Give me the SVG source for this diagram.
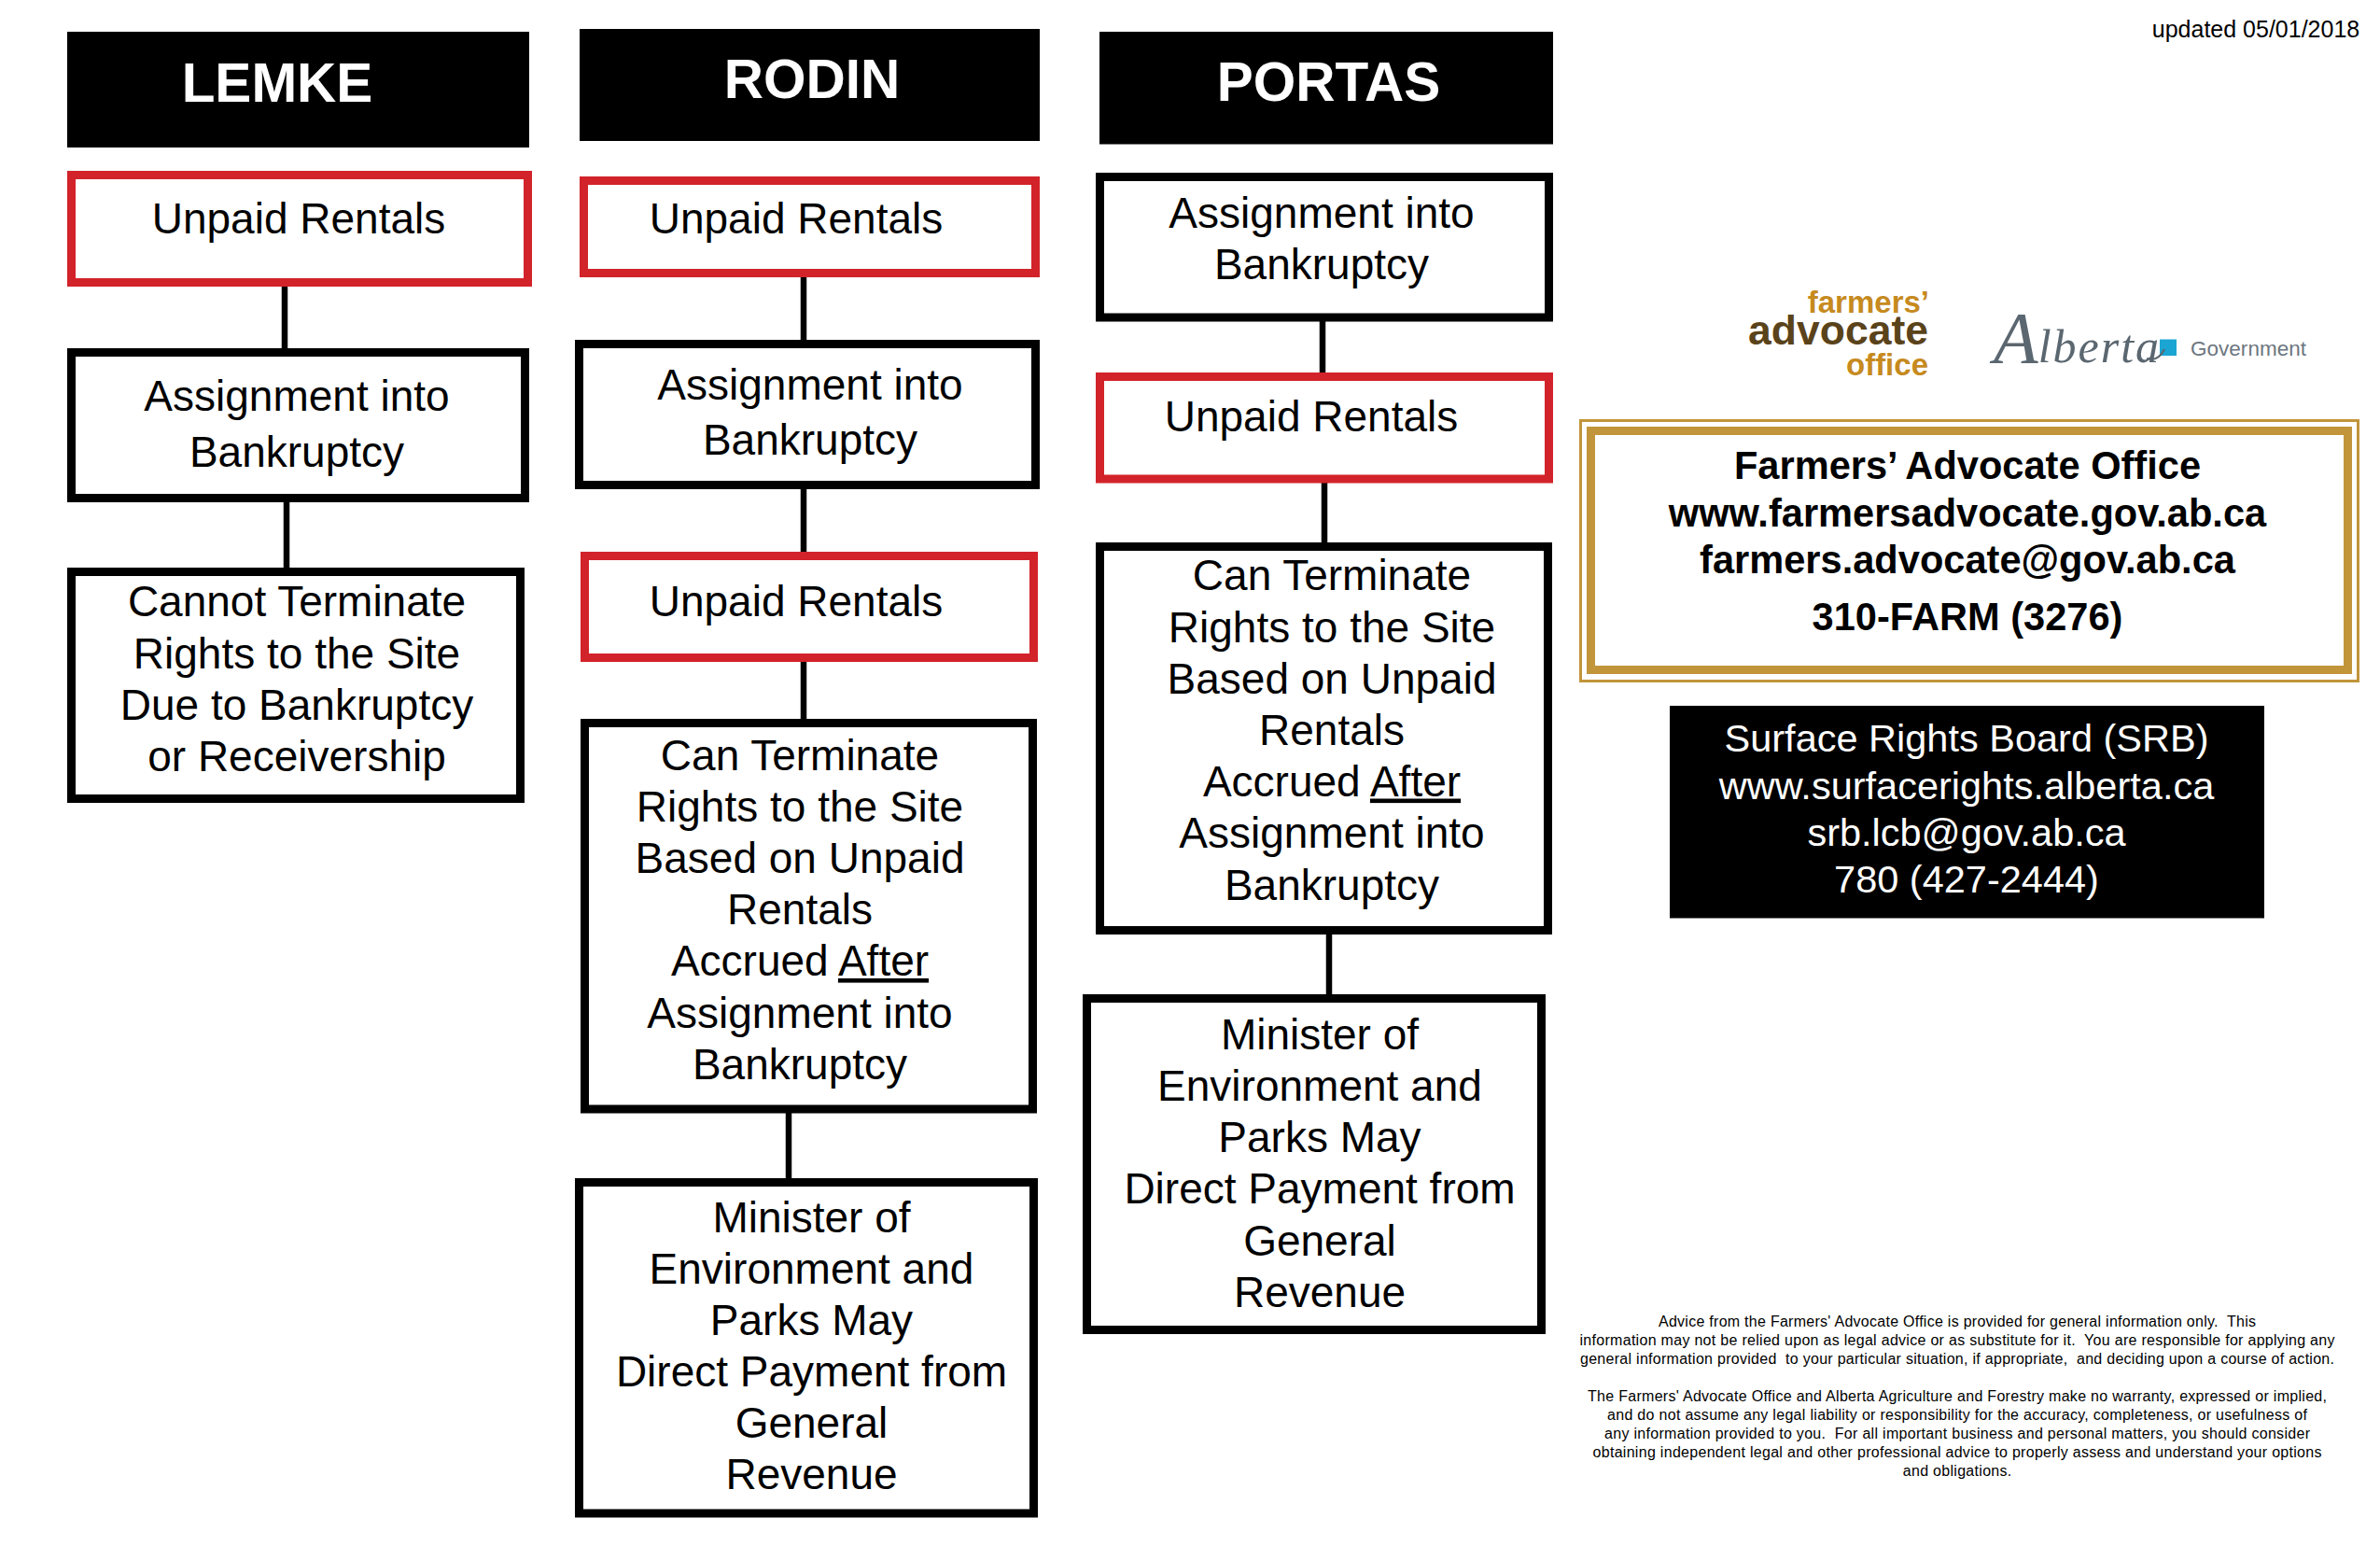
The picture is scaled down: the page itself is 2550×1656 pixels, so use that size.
<svg xmlns="http://www.w3.org/2000/svg" width="2550" height="1656" viewBox="0 0 2550 1656">
<style>
text{font-family:"Liberation Sans",Arial,sans-serif;fill:#000;text-anchor:middle;white-space:pre}
.b{fill:#fff;stroke:#000;stroke-width:9}
.r{fill:#fff;stroke:#d2232a;stroke-width:9}
.h{fill:#000}
.ht{font-size:58.5px;font-weight:700;fill:#fff}
.t{font-size:46px}
.c line{stroke:#000;stroke-width:6.5}
.g{font-size:41.6px;font-weight:700}
.s{font-size:41.5px;fill:#fff}
.d{font-size:16px}
.u{text-decoration:underline}
</style>
<rect width="2550" height="1656" fill="#fff"/>
<g id="connectors" class="c">
<line x1="305" y1="307" x2="305" y2="373"/>
<line x1="307" y1="538" x2="307" y2="608"/>
<line x1="861" y1="297" x2="861" y2="364"/>
<line x1="861" y1="524" x2="861" y2="591"/>
<line x1="861" y1="709" x2="861" y2="770"/>
<line x1="845" y1="1192" x2="845" y2="1262"/>
<line x1="1417" y1="344" x2="1417" y2="399"/>
<line x1="1419" y1="517" x2="1419" y2="581"/>
<line x1="1424" y1="1001" x2="1424" y2="1065"/>
</g>
<g id="lemke-header"><rect class="h" x="72" y="34" width="495" height="124"/><text class="ht" x="297" y="109">LEMKE</text></g>
<g id="lemke-unpaid"><rect class="r" x="76.5" y="187.5" width="489" height="115"/><text class="t" x="320" y="250">Unpaid Rentals</text></g>
<g id="lemke-assignment"><rect class="b" x="76.5" y="377.5" width="486" height="156"/><text class="t" x="318" y="440">Assignment into</text><text class="t" x="318" y="499.5">Bankruptcy</text></g>
<g id="lemke-cannot"><rect class="b" x="76.5" y="612.5" width="481" height="243"/><text class="t" x="318" y="660">Cannot Terminate</text><text class="t" x="318" y="715.5">Rights to the Site</text><text class="t" x="318" y="771">Due to Bankruptcy</text><text class="t" x="318" y="826">or Receivership</text></g>
<g id="rodin-header"><rect class="h" x="621" y="31" width="493" height="120"/><text class="ht" x="870" y="104.5">RODIN</text></g>
<g id="rodin-unpaid-1"><rect class="r" x="625.5" y="193.5" width="484" height="99"/><text class="t" x="853" y="250">Unpaid Rentals</text></g>
<g id="rodin-assignment"><rect class="b" x="620.5" y="368.5" width="489" height="151"/><text class="t" x="868" y="427.5">Assignment into</text><text class="t" x="868" y="486.5">Bankruptcy</text></g>
<g id="rodin-unpaid-2"><rect class="r" x="626.5" y="595.5" width="481" height="109"/><text class="t" x="853" y="660">Unpaid Rentals</text></g>
<g id="rodin-can"><rect class="b" x="626.5" y="774.5" width="480" height="413.5"/><text class="t" x="857" y="824.5">Can Terminate</text><text class="t" x="857" y="879.5">Rights to the Site</text><text class="t" x="857" y="934.5">Based on Unpaid</text><text class="t" x="857" y="990">Rentals</text><text class="t" x="857" y="1045">Accrued <tspan class="u">After</tspan></text><text class="t" x="857" y="1100.5">Assignment into</text><text class="t" x="857" y="1156">Bankruptcy</text></g>
<g id="rodin-minister"><rect class="b" x="620.5" y="1266.5" width="487" height="354.5"/><text class="t" x="869.5" y="1319.5">Minister of</text><text class="t" x="869.5" y="1374.5">Environment and</text><text class="t" x="869.5" y="1430">Parks May</text><text class="t" x="869.5" y="1485">Direct Payment from</text><text class="t" x="869.5" y="1540">General</text><text class="t" x="869.5" y="1595">Revenue</text></g>
<g id="portas-header"><rect class="h" x="1178" y="34" width="486" height="120.5"/><text class="ht" x="1423.5" y="108">PORTAS</text></g>
<g id="portas-assignment"><rect class="b" x="1178.5" y="189.5" width="481" height="150.5"/><text class="t" x="1416" y="243.5">Assignment into</text><text class="t" x="1416" y="298.5">Bankruptcy</text></g>
<g id="portas-unpaid"><rect class="r" x="1178.5" y="403.5" width="481" height="109.5"/><text class="t" x="1405" y="461.5">Unpaid Rentals</text></g>
<g id="portas-can"><rect class="b" x="1178.5" y="585.5" width="480" height="411"/><text class="t" x="1427" y="631.5">Can Terminate</text><text class="t" x="1427" y="687.5">Rights to the Site</text><text class="t" x="1427" y="742.5">Based on Unpaid</text><text class="t" x="1427" y="797.5">Rentals</text><text class="t" x="1427" y="852.5">Accrued <tspan class="u">After</tspan></text><text class="t" x="1427" y="907.5">Assignment into</text><text class="t" x="1427" y="963.5">Bankruptcy</text></g>
<g id="portas-minister"><rect class="b" x="1164.5" y="1069.5" width="487" height="355"/><text class="t" x="1414" y="1123.5">Minister of</text><text class="t" x="1414" y="1178.5">Environment and</text><text class="t" x="1414" y="1233.5">Parks May</text><text class="t" x="1414" y="1289">Direct Payment from</text><text class="t" x="1414" y="1344.5">General</text><text class="t" x="1414" y="1399.5">Revenue</text></g>
<g id="updated"><text x="2417" y="39.5" font-size="25">updated 05/01/2018</text></g>
<g id="logo-farmers">
<text x="2067" y="335" font-size="33" font-weight="700" style="text-anchor:end;fill:#c68a1e">farmers’</text>
<text x="2066" y="369" font-size="44.5" font-weight="700" style="text-anchor:end;fill:#5a431a">advocate</text>
<text x="2066" y="402" font-size="33" font-weight="700" style="text-anchor:end;fill:#c68a1e">office</text>
</g>
<g id="logo-alberta">
<text x="2136" y="388" style="text-anchor:start;fill:#5b6770;font-family:'Liberation Serif',serif;font-style:italic"><tspan font-size="78">A</tspan><tspan font-size="50" letter-spacing="2">lberta</tspan></text>
<rect x="2314" y="363.5" width="18" height="17.5" fill="#1ba5d2"/>
<path d="M2300 384Q2312 388 2319 374" fill="none" stroke="#5b6770" stroke-width="2"/>
<text x="2347" y="381" font-size="22.5" textLength="124" style="text-anchor:start;fill:#6d7680">Government</text>
</g>
<g id="fao-box">
<rect x="1693.5" y="450.5" width="833" height="279" fill="#fff" stroke="#c2953b" stroke-width="3"/>
<rect x="1704.5" y="461.5" width="811" height="256" fill="#fff" stroke="#c2953b" stroke-width="9"/>
<text class="g" x="2108" y="513">Farmers’ Advocate Office</text>
<text class="g" x="2108" y="564">www.farmersadvocate.gov.ab.ca</text>
<text class="g" x="2108" y="613.5">farmers.advocate@gov.ab.ca</text>
<text class="g" x="2108" y="675">310-FARM (3276)</text>
</g>
<g id="srb-box">
<rect x="1789" y="756" width="637" height="227.5" fill="#000"/>
<text class="s" x="2107" y="805">Surface Rights Board (SRB)</text>
<text class="s" x="2107" y="856">www.surfacerights.alberta.ca</text>
<text class="s" x="2107" y="906">srb.lcb@gov.ab.ca</text>
<text class="s" x="2107" y="956">780 (427-2444)</text>
</g>
<g id="disclaimer">
<text class="d" x="2097" y="1420.7" textLength="640">Advice from the Farmers' Advocate Office is provided for general information only.  This</text>
<text class="d" x="2097" y="1440.7" textLength="809">information may not be relied upon as legal advice or as substitute for it.  You are responsible for applying any</text>
<text class="d" x="2097" y="1460.7" textLength="808">general information provided  to your particular situation, if appropriate,  and deciding upon a course of action.</text>
<text class="d" x="2097" y="1500.7" textLength="792">The Farmers' Advocate Office and Alberta Agriculture and Forestry make no warranty, expressed or implied,</text>
<text class="d" x="2097" y="1520.7" textLength="750">and do not assume any legal liability or responsibility for the accuracy, completeness, or usefulness of</text>
<text class="d" x="2097" y="1540.7" textLength="756">any information provided to you.  For all important business and personal matters, you should consider</text>
<text class="d" x="2097" y="1560.7" textLength="781">obtaining independent legal and other professional advice to properly assess and understand your options</text>
<text class="d" x="2097" y="1580.7" textLength="116.5">and obligations.</text>
</g>
</svg>
